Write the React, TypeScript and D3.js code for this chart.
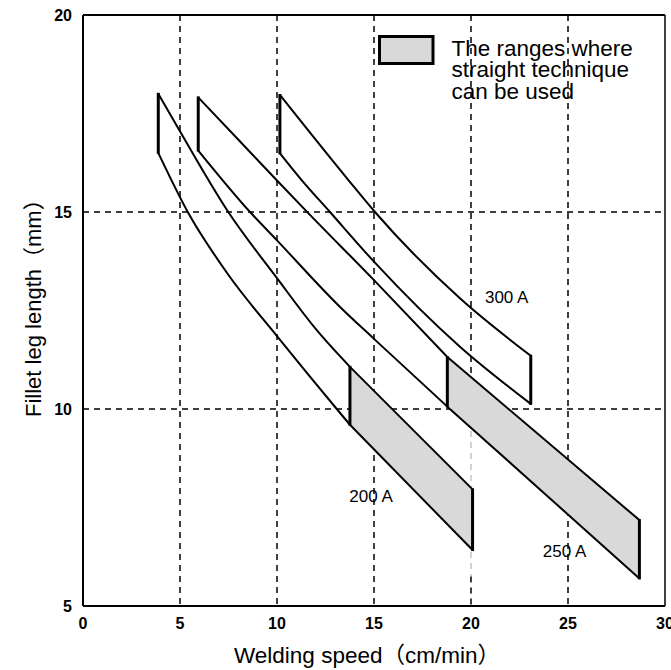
import React from "react";
import * as d3 from "d3";

const W = 671;
const H = 670;
const FONT = "'Liberation Sans', Arial, Helvetica, 'Noto Sans CJK JP', sans-serif";

type Pt = [number, number];

// axes
const xTicks = [0, 5, 10, 15, 20, 25, 30];
const yTicks = [5, 10, 15, 20];
const xGrid = [5, 10, 15, 20, 25];
const yGrid = [10, 15];

// 200 A band (speed cm/min, leg length mm)
const upper200: Pt[] = [[3.88, 18.0], [4.96, 17.08], [7.49, 15.0], [10, 13.32], [12.05, 12.0], [13.76, 11.07], [20.08, 7.96]];
const lower200: Pt[] = [[3.88, 16.5], [5.4, 15.0], [7.5, 13.4], [10, 11.85], [13.08, 10.0], [13.76, 9.6], [20.08, 6.42]];
// 250 A band
const upper250: Pt[] = [[5.94, 17.91], [8, 16.84], [10, 15.8], [11.5, 15.03], [15, 13.27], [18.78, 11.32], [28.68, 7.18]];
const lower250: Pt[] = [[5.94, 16.56], [8.61, 15.0], [10, 14.28], [13.25, 12.59], [15, 11.78], [18.78, 10.06], [28.68, 5.7]];
// 300 A band
const upper300: Pt[] = [[10.15, 17.97], [13.68, 15.81], [15.05, 15.0], [19.43, 12.81], [23.08, 11.35]];
const lower300: Pt[] = [[10.15, 16.49], [11.27, 15.81], [12.73, 15.0], [15.0, 13.74], [19.43, 11.58], [23.08, 10.13]];

// where the straight-technique (shaded) range starts, per band
const bands = [
  { label: "200 A", upper: upper200, lower: lower200, split: 13.76, labelAt: [13.73, 7.65] as Pt },
  { label: "250 A", upper: upper250, lower: lower250, split: 18.78, labelAt: [23.7, 6.25] as Pt },
  { label: "300 A", upper: upper300, lower: lower300, split: null as number | null, labelAt: [20.72, 12.7] as Pt },
];

const legendLines = ["The ranges where", "straight technique", "can be used"];

const GRAY = "#d9d9d9";

export default function App() {
  const x = d3.scaleLinear().domain([0, 30]).range([83, 665]);
  const y = d3.scaleLinear().domain([5, 20]).range([606, 15]);

  const curve = d3
    .line<Pt>()
    .x((d) => x(d[0]))
    .y((d) => y(d[1]))
    .curve(d3.curveMonotoneX);
  const straight = d3
    .line<Pt>()
    .x((d) => x(d[0]))
    .y((d) => y(d[1]));

  const [x0, x1] = x.range();
  const [yb, yt] = y.range();

  return (
    <svg
      width={W}
      height={H}
      style={{ position: "absolute", left: 0, top: 0, background: "white" }}
      fontFamily={FONT}
    >
      {/* grid */}
      <g stroke="#000" strokeWidth={1.5} strokeDasharray="6 5">
        {xGrid.map((v) =>
          v === 20 ? (
            <g key={v}>
              <line x1={x(v)} x2={x(v)} y1={yt} y2={y(10)} />
              <line x1={x(v)} x2={x(v)} y1={y(10)} y2={y(5.75)} stroke="#c4c4c4" />
              <line x1={x(v)} x2={x(v)} y1={y(5.75)} y2={yb} />
            </g>
          ) : (
            <line key={v} x1={x(v)} x2={x(v)} y1={yt} y2={yb} />
          )
        )}
        {yGrid.map((v) => (
          <line key={v} x1={x0} x2={x1} y1={y(v)} y2={y(v)} />
        ))}
      </g>

      {/* shaded ranges */}
      {bands.map((b) => {
        if (b.split == null) return null;
        const u = b.upper.filter((p) => p[0] >= b.split!);
        const l = b.lower.filter((p) => p[0] >= b.split!);
        const area = d3
          .area<number>()
          .x((i) => x(u[i][0]))
          .y0((i) => y(l[i][1]))
          .y1((i) => y(u[i][1]));
        return <path key={b.label} d={area(d3.range(u.length)) ?? ""} fill={GRAY} />;
      })}

      {/* band outlines */}
      {bands.map((b) => {
        const split = b.split ?? b.upper[b.upper.length - 1][0];
        const uc = b.upper.filter((p) => p[0] <= split);
        const lc = b.lower.filter((p) => p[0] <= split);
        const us = b.upper.filter((p) => p[0] >= split);
        const ls = b.lower.filter((p) => p[0] >= split);
        const first = [b.upper[0], b.lower[0]];
        const last = [b.upper[b.upper.length - 1], b.lower[b.lower.length - 1]];
        const verticals: [Pt, Pt][] = [[first[0], first[1]], [last[0], last[1]]];
        if (b.split != null) verticals.push([uc[uc.length - 1], lc[lc.length - 1]]);
        return (
          <g key={b.label} fill="none" stroke="#000">
            <path d={curve(uc) ?? ""} strokeWidth={2} />
            <path d={curve(lc) ?? ""} strokeWidth={2} />
            {us.length > 1 && <path d={straight(us) ?? ""} strokeWidth={2} />}
            {ls.length > 1 && <path d={straight(ls) ?? ""} strokeWidth={2} />}
            {verticals.map(([a, c], i) => (
              <line key={i} x1={x(a[0])} x2={x(c[0])} y1={y(a[1]) - 1} y2={y(c[1]) + 1} strokeWidth={3} />
            ))}
          </g>
        );
      })}

      {/* frame */}
      <g fill="none" stroke="#000">
        <line x1={x0} x2={x1} y1={yt} y2={yt} strokeWidth={2} />
        <line x1={x0} x2={x1} y1={yb} y2={yb} strokeWidth={2} />
        <line x1={x0} x2={x0} y1={yt} y2={yb} strokeWidth={2} />
        <line x1={x1} x2={x1} y1={yt} y2={yb} strokeWidth={1.5} />
      </g>

      {/* tick labels */}
      <g fontSize={16} fontWeight="bold" fill="#000">
        {yTicks.map((v) => (
          <text key={v} x={x0 - 11} y={y(v) + 6} textAnchor="end">
            {v}
          </text>
        ))}
        {xTicks.map((v) => (
          <text key={v} x={x(v)} y={yb + 23} textAnchor="middle">
            {v}
          </text>
        ))}
      </g>

      {/* axis titles */}
      <text x={234} y={663} fontSize={22.5} fill="#000">
        Welding speed（cm/min）
      </text>
      <text transform="translate(41,417) rotate(-90)" fontSize={22} fill="#000">
        Fillet leg length（mm）
      </text>

      {/* band labels */}
      {bands.map((b) => (
        <text key={b.label} x={x(b.labelAt[0])} y={y(b.labelAt[1])} fontSize={17} fill="#000">
          {b.label}
        </text>
      ))}

      {/* legend */}
      <rect x={379.5} y={36.5} width={53.5} height={27} fill={GRAY} stroke="#000" strokeWidth={3} />
      <g fontSize={22.5} fill="#000">
        {legendLines.map((t, i) => (
          <text key={t} x={451.5} y={55.7 + i * 21.6}>
            {t}
          </text>
        ))}
      </g>
    </svg>
  );
}
